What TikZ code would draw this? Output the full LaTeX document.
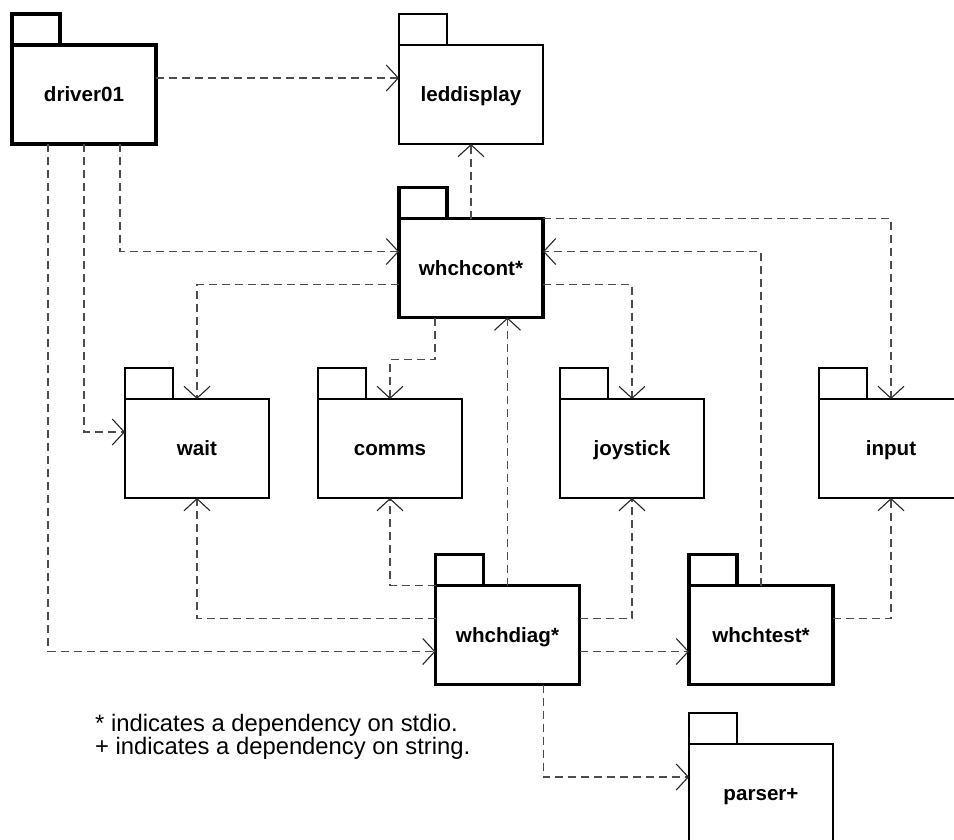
\documentclass[tikz,border=0pt]{standalone}
\usepackage{fontspec}
\setmainfont{Liberation Sans}
\usetikzlibrary{arrows.meta,positioning}
\tikzset{%
	pkg/.style        = {draw, rectangle, line width=1.8pt, outer sep=0pt, minimum width=144pt, minimum height=99pt, text height=17pt, text depth=3pt, font=\bfseries\fontsize{20.6}{24}\selectfont}, % Package
	pkgmain/.style    = {pkg, line width=3.2pt}, % Package using stdio
	pkgtab/.style     = {draw, line width=1.8pt}, % Tab
	pkgtabmain/.style = {draw, line width=3.2pt}, % Tab of a bold package
	depend/.style     = {draw=black!70, line width=1.3pt, dash pattern=on 8pt off 5pt, -{Straight Barb[length=12pt,width=26pt,line width=1.1pt,black!85]}},
	notetext/.style   = {align=left, inner sep=0pt, font=\fontsize{23.8}{21}\selectfont},
}
\begin{document}
\begin{tikzpicture}[x=1pt,y=1pt]
	\useasboundingbox (0,0) rectangle (954,-839);
	\node [pkgmain] (driver01) at (84,-94.5) {driver01};
	\node [pkg] (leddisplay) [right of=driver01,node distance=387pt] {leddisplay};
	\node [pkgmain] (whchcont) [below of=leddisplay,node distance=173.5pt] {whchcont*};
	\node [pkg] (wait) at (197,-448.5) {wait};
	\node [pkg] (comms) [right of=wait,node distance=193pt] {comms};
	\node [pkg] (joystick) [right of=comms,node distance=242pt] {joystick};
	\node [pkg] (input) [right of=joystick,node distance=259pt] {input};
	\node [pkgmain] (whchdiag) at (507.5,-635) {whchdiag*};
	\node [pkgmain] (whchtest) [right of=whchdiag,node distance=253.5pt] {whchtest*};
	\node [pkg] (parser) [below of=whchtest,node distance=158.5pt] {parser+};
	\node [notetext,anchor=west] (notes) at (95,-737) {* indicates a dependency on stdio.\\+ indicates a dependency on string.};
	
	\draw [pkgtabmain] (driver01.north west) rectangle ++(48,31);
	\draw [pkgtab] (leddisplay.north west) rectangle ++(48,31);
	\draw [pkgtabmain] (whchcont.north west) rectangle ++(48,31);
	\draw [pkgtab] (wait.north west) rectangle ++(48,31);
	\draw [pkgtab] (comms.north west) rectangle ++(48,31);
	\draw [pkgtab] (joystick.north west) rectangle ++(48,31);
	\draw [pkgtab] (input.north west) rectangle ++(48,31);
	\draw [pkgtabmain] (whchdiag.north west) rectangle ++(48,31);
	\draw [pkgtabmain] (whchtest.north west) rectangle ++(48,31);
	\draw [pkgtab] (parser.north west) rectangle ++(48,31);
	
	\draw [depend] ([yshift=16.5pt]driver01.east) -- ([yshift=16.5pt]leddisplay.west);
	\draw [depend] ([xshift=36pt]driver01.south) |- ([yshift=16.5pt]whchcont.west);
	\draw [depend] (driver01.south) |- ([yshift=16.5pt]wait.west);
	\draw [depend] ([xshift=-36pt]driver01.south) |- ([yshift=-16.5pt]whchdiag.west);
	\draw [depend] (whchcont.north) -- (leddisplay.south);
	\draw [depend] ([yshift=-16.5pt]whchcont.west) -| (wait.north);
	\draw [depend] ([xshift=-36pt]whchcont.south) -- ++(0,-42) -| (comms.north);
	\draw [depend] ([yshift=-16.5pt]whchcont.east) -| (joystick.north);
	\draw [depend] (whchcont.north east) -| (input.north);
	\draw [depend] (whchtest.north) |- ([yshift=16.5pt]whchcont.east);
	\draw [depend] (whchdiag.north) -- (whchdiag.north |- whchcont.south);
	\draw [depend] ([yshift=16.5pt]whchdiag.west) -| (wait.south);
	\draw [depend] (whchdiag.north west) -| (comms.south);
	\draw [depend] ([yshift=16.5pt]whchdiag.east) -| (joystick.south);
	\draw [depend] ([yshift=-16.5pt]whchdiag.east) -- ([yshift=-16.5pt]whchtest.west);
	\draw [depend] ([xshift=36pt]whchdiag.south) |- ([yshift=16.5pt]parser.west);
	\draw [depend] ([yshift=16.5pt]whchtest.east) -| (input.south);
\end{tikzpicture}
\end{document}
